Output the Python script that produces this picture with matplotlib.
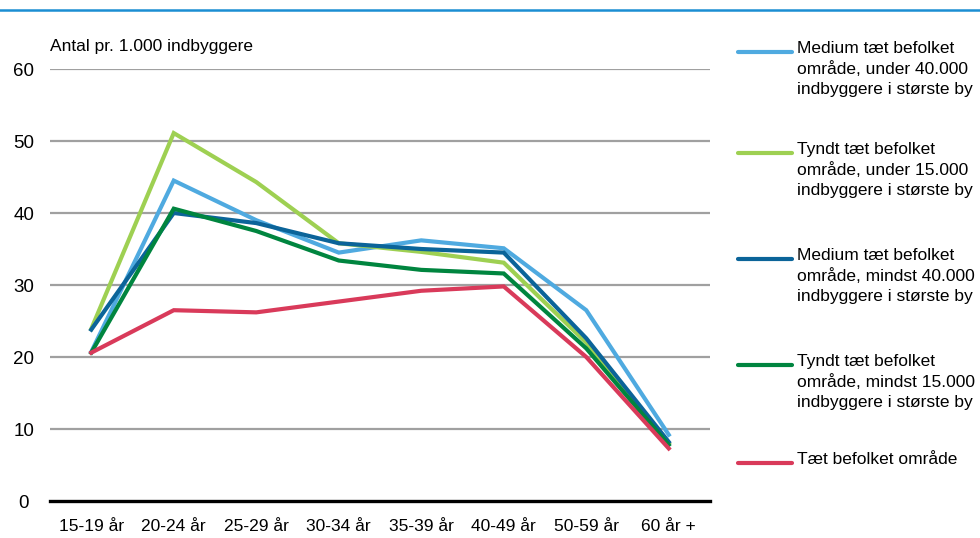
import matplotlib.pyplot as plt
from matplotlib.lines import Line2D

plt.rcParams['font.family'] = ['Liberation Sans', 'DejaVu Sans']

# Data
kategorier = ['15-19 år', '20-24 år', '25-29 år', '30-34 år', '35-39 år', '40-49 år', '50-59 år', '60 år +']
medium_under = [20.7, 44.5, 39.0, 34.5, 36.2, 35.1, 26.5, 9.2]
tyndt_under = [23.9, 51.1, 44.3, 35.8, 34.6, 33.1, 22.0, 8.0]
medium_mindst = [23.8, 40.0, 38.6, 35.8, 35.0, 34.5, 22.6, 8.2]
tyndt_mindst = [20.6, 40.6, 37.5, 33.4, 32.1, 31.6, 21.2, 7.8]
taet = [20.6, 26.5, 26.2, 27.7, 29.2, 29.8, 20.0, 7.3]

serier = [
    ("Medium tæt befolket\nområde, under 40.000\nindbyggere i største by", medium_under, '#4FAAE0'),
    ("Tyndt tæt befolket\nområde, under 15.000\nindbyggere i største by", tyndt_under, '#9ED052'),
    ("Medium tæt befolket\nområde, mindst 40.000\nindbyggere i største by", medium_mindst, '#0B6499'),
    ("Tyndt tæt befolket\nområde, mindst 15.000\nindbyggere i største by", tyndt_mindst, '#00853F'),
    ("Tæt befolket område", taet, '#D93A5A'),
]

fig = plt.figure(figsize=(9.8, 5.38), dpi=100)
ax = fig.add_axes([50/980, 1-501/538, 660/980, (501-69)/538])

x = list(range(len(kategorier)))
for navn, vals, farve in serier:
    ax.plot(x, vals, color=farve, lw=3, solid_joinstyle='miter', clip_on=False, zorder=3)

ax.set_xlim(-0.5, len(kategorier)-0.5)
ax.set_ylim(0, 60)
ax.set_yticks(range(0, 61, 10))
ax.set_xticks(x)
ax.set_xticklabels(kategorier, fontsize=12.5)
ax.tick_params(axis='y', labelsize=13.5, length=0, pad=19)
ax.tick_params(axis='x', length=0, pad=13)
for lbl in ax.get_yticklabels():
    lbl.set_horizontalalignment('center')
for s in ax.spines.values():
    s.set_visible(False)
for v in range(10, 61, 10):
    ax.axhline(v, color='#A0A0A0', lw=1.6, zorder=1)
ax.axhline(0, color='black', lw=2.4, zorder=2, clip_on=False)

fig.text(50/980, 1-47/538, 'Antal pr. 1.000 indbyggere', fontsize=12.5, va='center', ha='left')

# top line
fig.add_artist(Line2D([0, 1], [1-10/538, 1-10/538], color='#1B8ED3', lw=1.8))

# legend
ly = [52, 153, 259, 365, 463]
for (navn, vals, farve), yy in zip(serier, ly):
    fy = 1 - yy/538
    fig.add_artist(Line2D([738/980, 792/980], [fy, fy], color=farve, lw=3, solid_capstyle='round'))
    fig.text(797/980, 1-(yy-11)/538, navn, fontsize=12.5, va='top', ha='left', linespacing=1.4)

fig.savefig('out.png', dpi=100)
